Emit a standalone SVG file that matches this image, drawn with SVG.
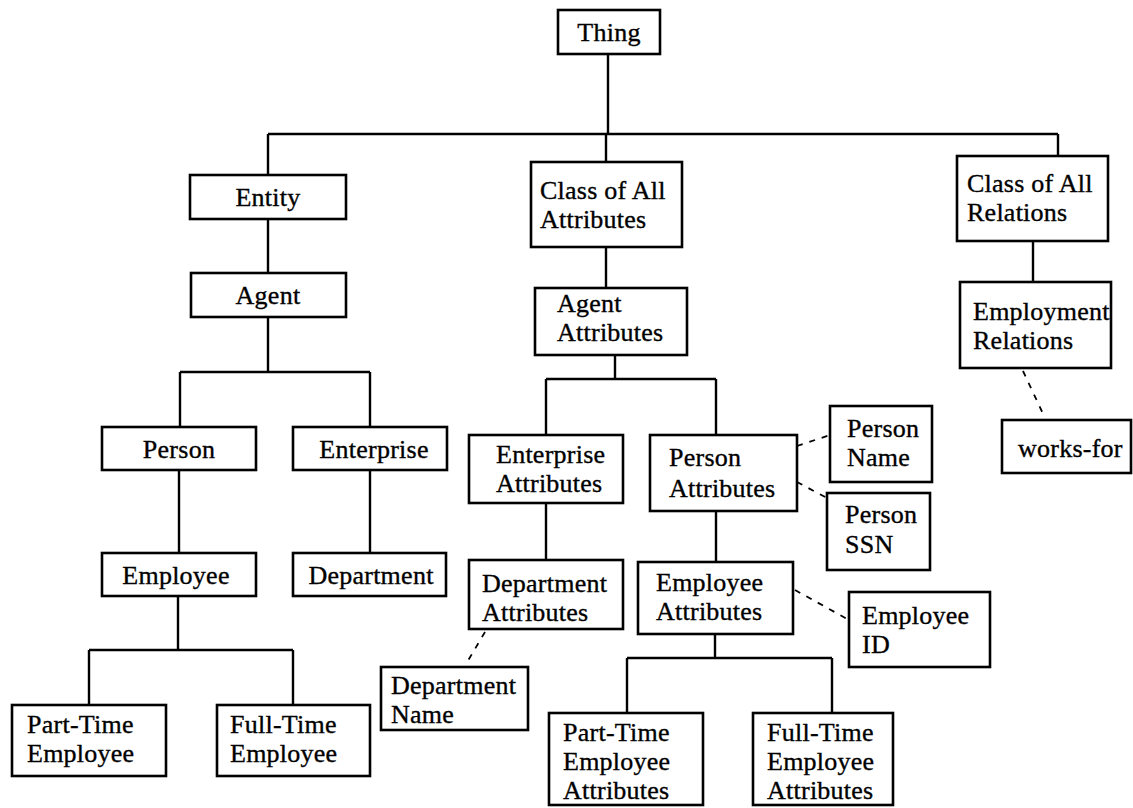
<svg xmlns="http://www.w3.org/2000/svg" width="1133" height="808" viewBox="0 0 1133 808">
<style>
.box{fill:#fff;stroke:#000;stroke-width:2.6}
.t{font-family:"Liberation Serif","Times New Roman",serif;font-size:26px;letter-spacing:0.25px;fill:#000;stroke:#000;stroke-width:0.35}
.m{text-anchor:middle}
.conn path{fill:none;stroke:#000;stroke-width:2.4}
.conn .d{stroke-width:1.8;stroke-dasharray:6 7}
</style>
<rect width="1133" height="808" fill="#fff"/>
<g class="conn" id="connectors">
<path d="M608,54V134M268,134H1058M268,134V175M606,134V162M1058,134V156"/>
<path d="M268,219V273M268,317V372M180,372H370M180,372V427M370,372V427"/>
<path d="M179,470V553M370,470V553M178,596V650M89,650H293M89,650V705M293,650V705"/>
<path d="M606,247V288M615,355V379M546,379H716M546,379V435M716,379V435"/>
<path d="M546,503V560M716,511V562M715,634V658M627,658H832M627,658V713M832,658V713"/>
<path d="M1033,241V282"/>
<path class="d" d="M797,446L830,435"/>
<path class="d" d="M797,482L827,498"/>
<path class="d" d="M795,590L849,620"/>
<path class="d" d="M485,632L466,664"/>
<path class="d" d="M1023,371L1045,418"/>
</g>
<g id="thing"><rect class="box" x="558" y="10" width="102" height="44"/><text class="t m" x="609" y="41">Thing</text></g>
<g id="entity"><rect class="box" x="190" y="175" width="156" height="44"/><text class="t m" x="268" y="206">Entity</text></g>
<g id="class-attrs"><rect class="box" x="531" y="162" width="151" height="85"/><text class="t" x="540" y="199">Class of All</text><text class="t" x="540" y="228">Attributes</text></g>
<g id="class-rels"><rect class="box" x="957" y="156" width="151" height="85"/><text class="t" x="967" y="192">Class of All</text><text class="t" x="967" y="221">Relations</text></g>
<g id="agent"><rect class="box" x="191" y="273" width="155" height="44"/><text class="t m" x="268" y="304">Agent</text></g>
<g id="agent-attrs"><rect class="box" x="535" y="288" width="152" height="67"/><text class="t" x="557" y="312">Agent</text><text class="t" x="557" y="341">Attributes</text></g>
<g id="employment-rels"><rect class="box" x="960" y="282" width="151" height="86"/><text class="t" x="973" y="320">Employment</text><text class="t" x="973" y="349">Relations</text></g>
<g id="person"><rect class="box" x="102" y="427" width="154" height="43"/><text class="t m" x="179" y="458">Person</text></g>
<g id="enterprise"><rect class="box" x="293" y="427" width="154" height="43"/><text class="t m" x="374" y="458">Enterprise</text></g>
<g id="enterprise-attrs"><rect class="box" x="469" y="435" width="154" height="68"/><text class="t" x="496" y="463">Enterprise</text><text class="t" x="496" y="492">Attributes</text></g>
<g id="person-attrs"><rect class="box" x="650" y="435" width="147" height="76"/><text class="t" x="669" y="466">Person</text><text class="t" x="669" y="497">Attributes</text></g>
<g id="person-name"><rect class="box" x="830" y="406" width="102" height="76"/><text class="t" x="847" y="437">Person</text><text class="t" x="847" y="466">Name</text></g>
<g id="person-ssn"><rect class="box" x="827" y="493" width="103" height="77"/><text class="t" x="845" y="523">Person</text><text class="t" x="845" y="553">SSN</text></g>
<g id="works-for"><rect class="box" x="1002" y="420" width="129" height="53"/><text class="t" x="1018" y="457">works-for</text></g>
<g id="employee"><rect class="box" x="102" y="553" width="154" height="43"/><text class="t m" x="176" y="584">Employee</text></g>
<g id="department"><rect class="box" x="293" y="553" width="153" height="43"/><text class="t m" x="371" y="584">Department</text></g>
<g id="dept-attrs"><rect class="box" x="469" y="560" width="154" height="69"/><text class="t" x="482" y="592">Department</text><text class="t" x="482" y="621">Attributes</text></g>
<g id="employee-attrs"><rect class="box" x="638" y="562" width="155" height="72"/><text class="t" x="656" y="591">Employee</text><text class="t" x="656" y="620">Attributes</text></g>
<g id="employee-id"><rect class="box" x="849" y="592" width="141" height="75"/><text class="t" x="862" y="624">Employee</text><text class="t" x="862" y="653">ID</text></g>
<g id="dept-name"><rect class="box" x="381" y="667" width="147" height="63"/><text class="t" x="391" y="694">Department</text><text class="t" x="391" y="723">Name</text></g>
<g id="pt-employee"><rect class="box" x="12" y="705" width="154" height="71"/><text class="t" x="27" y="733">Part-Time</text><text class="t" x="27" y="762">Employee</text></g>
<g id="ft-employee"><rect class="box" x="217" y="705" width="153" height="71"/><text class="t" x="230" y="733">Full-Time</text><text class="t" x="230" y="762">Employee</text></g>
<g id="pt-employee-attrs"><rect class="box" x="549" y="713" width="154" height="92"/><text class="t" x="563" y="741">Part-Time</text><text class="t" x="563" y="770">Employee</text><text class="t" x="563" y="799">Attributes</text></g>
<g id="ft-employee-attrs"><rect class="box" x="753" y="713" width="140" height="92"/><text class="t" x="767" y="741">Full-Time</text><text class="t" x="767" y="770">Employee</text><text class="t" x="767" y="799">Attributes</text></g>
</svg>
